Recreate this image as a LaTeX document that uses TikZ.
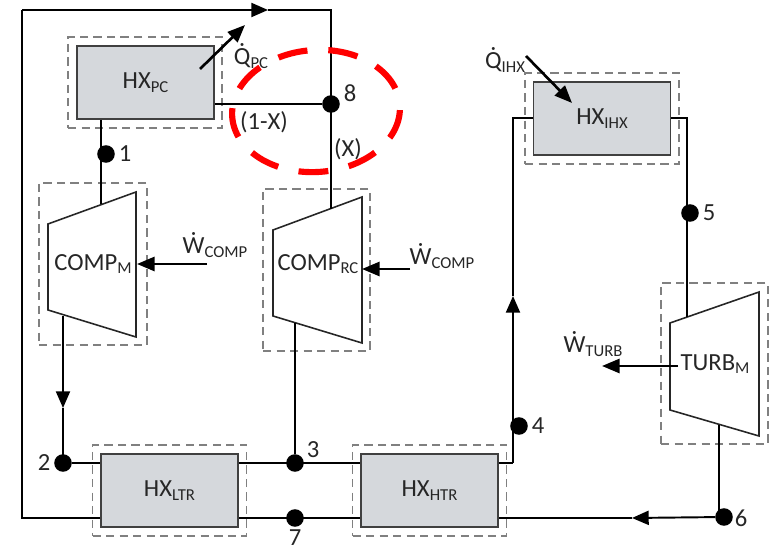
\documentclass[tikz,border=0pt]{standalone}
\usepackage{fontspec}
\setmainfont{Carlito}
\usetikzlibrary{arrows.meta}
\definecolor{hxgray}{HTML}{D5D8DC}
\definecolor{boxdash}{HTML}{808080}
\definecolor{inktext}{HTML}{262626}
\newcommand{\subs}[2]{#1{\fontsize{9.5}{10}\selectfont\raisebox{-0.45ex}{#2}}}
\newcommand{\dotted}[2]{\subs{\accent"02D9 #1}{#2}}
\tikzset{
    flow/.style={black, line width=1.1pt},
    flowtip/.style={black, line width=1.1pt, -{Triangle[length=9.5pt,width=8pt]}},
    heat/.style={black, line width=1.5pt, -{Triangle[length=10pt,width=8pt]}},
    hxbox/.style={draw=black!75, line width=1.1pt, fill=hxgray, minimum width=2.74cm, minimum height=1.46cm, inner sep=0pt, text=inktext},
    dashbox/.style={draw=boxdash, dash pattern=on 4.7pt off 3pt, line width=0.6pt, minimum width=3.08cm, minimum height=1.82cm, inner sep=0pt},
    statedot/.style={circle, fill=black, minimum size=10pt, inner sep=0pt},
    lbl/.style={text=inktext, inner sep=0pt}
}
\begin{document}
\begin{tikzpicture}[x=0.02cm, y=0.02cm, font=\fontsize{14}{14}\selectfont]
    \useasboundingbox (0,0) rectangle (773,-546);
    % dashed housings
    \node [dashbox] (boxPC) at (145,-82.5) {};
    \node [dashbox] (boxLTR) at (169.5,-490.5) {};
    \node [dashbox] (boxHTR) at (429.5,-490.5) {};
    \node [dashbox] (boxIHX) at (602,-118.5) {};
    \node [dashbox, minimum width=2.16cm, minimum height=3.24cm] (boxM) at (93,-264) {};
    \node [dashbox, minimum width=2.14cm, minimum height=3.24cm] (boxRC) at (316.5,-270) {};
    \node [dashbox, minimum width=2.14cm, minimum height=3.22cm] (boxT) at (714.5,-363.5) {};
    % heat exchangers
    \node [hxbox] (hxPC) at (145.5,-82.5) {\subs{HX}{PC}};
    \node [hxbox] (hxLTR) at (169.5,-490.5) {\subs{HX}{LTR}};
    \node [hxbox] (hxHTR) at (429.5,-490.5) {\subs{HX}{HTR}};
    \node [hxbox] (hxIHX) at (602,-118.5) {\subs{HX}{IHX}};
    % compressors and turbine
    \draw [black!85, line width=0.9pt] (48,-224) -- (136,-192) -- (136,-337) -- (48,-310) -- cycle;
    \node [lbl] (compM) at (93,-264) {\subs{COMP}{M}};
    \draw [black!85, line width=0.9pt] (273,-230) -- (362,-197) -- (362,-343) -- (273,-316) -- cycle;
    \node [lbl] (compRC) at (318,-264) {\subs{COMP}{RC}};
    \draw [black!85, line width=0.9pt] (670,-323) -- (759,-292) -- (759,-436) -- (670,-410) -- cycle;
    \node [lbl] (turbM) at (715,-364) {\subs{TURB}{M}};
    % ports and bends
    \coordinate (mIn) at (101,-204);
    \coordinate (mOut) at (63,-316);
    \coordinate (rcIn) at (331,-209);
    \coordinate (rcOut) at (295,-323);
    \coordinate (tIn) at (687,-317);
    \coordinate (tOut) at (719,-425);
    \coordinate (wM) at (137,-264);
    \coordinate (wRC) at (362,-269);
    \coordinate (wT) at (602,-366);
    \coordinate (loopBL) at (22,-518);
    \coordinate (loopTL) at (22,-10);
    \coordinate (loopTip) at (268,-10);
    \coordinate (loopTR) at (331,-10);
    \coordinate (tipM) at (63,-408);
    \coordinate (tipIHX) at (513,-296);
    \coordinate (tipBot) at (632,-518);
    \coordinate (ihxL) at (513,-118);
    \coordinate (ihxR) at (687,-118);
    \coordinate (htrOut) at (513,-463);
    \coordinate (qPCa) at (200,-69);
    \coordinate (qPCb) at (245,-25);
    \coordinate (qIa) at (526,-56);
    \coordinate (qIb) at (572,-103);
    % state points
    \node [statedot] (p1) at (106,-154) {};
    \node [statedot] (p2) at (63,-463) {};
    \node [statedot] (p3) at (295,-463) {};
    \node [statedot] (p4) at (519,-426) {};
    \node [statedot] (p5) at (690,-213) {};
    \node [statedot] (p6) at (724,-517) {};
    \node [statedot] (p7) at (295,-518) {};
    \node [statedot] (p8) at (331,-104) {};
    % piping
    \draw [flow] (hxLTR.west |- loopBL) -- (loopBL) -- (loopTL);
    \draw [flowtip] (loopTL) -- (loopTip);
    \draw [flow] (loopTip) -- (loopTR) -- (rcIn);
    \draw [flow] (hxPC.east |- p8) -- (p8);
    \draw [flow] (mIn |- hxPC.south) -- (mIn);
    \draw [flowtip] (mOut) -- (tipM);
    \draw [flow] (tipM) -- (p2.center);
    \draw [flow] (p2) -- (hxLTR.west |- p2);
    \draw [flow] (hxLTR.east |- p3) -- (hxHTR.west |- p3);
    \draw [flow] (rcOut) -- (p3);
    \draw [flow] (hxLTR.east |- p7) -- (hxHTR.west |- p7);
    \draw [flow] (hxHTR.east |- htrOut) -- (htrOut);
    \draw [flowtip] (htrOut) -- (tipIHX);
    \draw [flow] (tipIHX) -- (ihxL) -- (hxIHX.west |- ihxL);
    \draw [flow] (hxIHX.east |- ihxR) -- (ihxR) -- (tIn);
    \draw [flow] (tOut) -- (tOut |- p6);
    \draw [flowtip] (p6) -- (tipBot);
    \draw [flow] (tipBot) -- (hxHTR.east |- tipBot);
    % work and heat
    \draw [heat] (207,-264) -- (wM);
    \draw [heat] (410,-269) -- (wRC);
    \draw [heat] (678,-366) -- (wT);
    \draw [heat] (qPCa) -- (qPCb);
    \draw [heat] (qIa) -- (qIb);
    % labels
    \node [lbl] (t1) at (125,-154) {1};
    \node [lbl] (t2) at (44,-463) {2};
    \node [lbl] (t3) at (313,-450) {3};
    \node [lbl] (t4) at (538,-426) {4};
    \node [lbl] (t5) at (709,-213) {5};
    \node [lbl] (t6) at (741,-518) {6};
    \node [lbl] (t7) at (295,-537.5) {7};
    \node [lbl] (t8) at (350,-93) {8};
    \node [lbl] (t1x) at (264,-122) {(1-X)};
    \node [lbl] (tx) at (348,-149) {(X)};
    \node [lbl] (qPC) at (251,-56) {\dotted{Q}{PC}};
    \node [lbl] (qIHX) at (505,-60) {\dotted{Q}{IHX}};
    \node [lbl] (wCompM) at (215,-245) {\dotted{W}{COMP}};
    \node [lbl] (wCompRC) at (442,-256) {\dotted{W}{COMP}};
    \node [lbl] (wTurb) at (593,-344) {\dotted{W}{TURB}};
    % red marking
    \draw [red, line width=3.5pt, dash pattern=on 17pt off 11.9pt, dash phase=19pt, rotate around={4:(316,-111)}] (316,-111) ellipse (84 and 61);
\end{tikzpicture}
\end{document}
